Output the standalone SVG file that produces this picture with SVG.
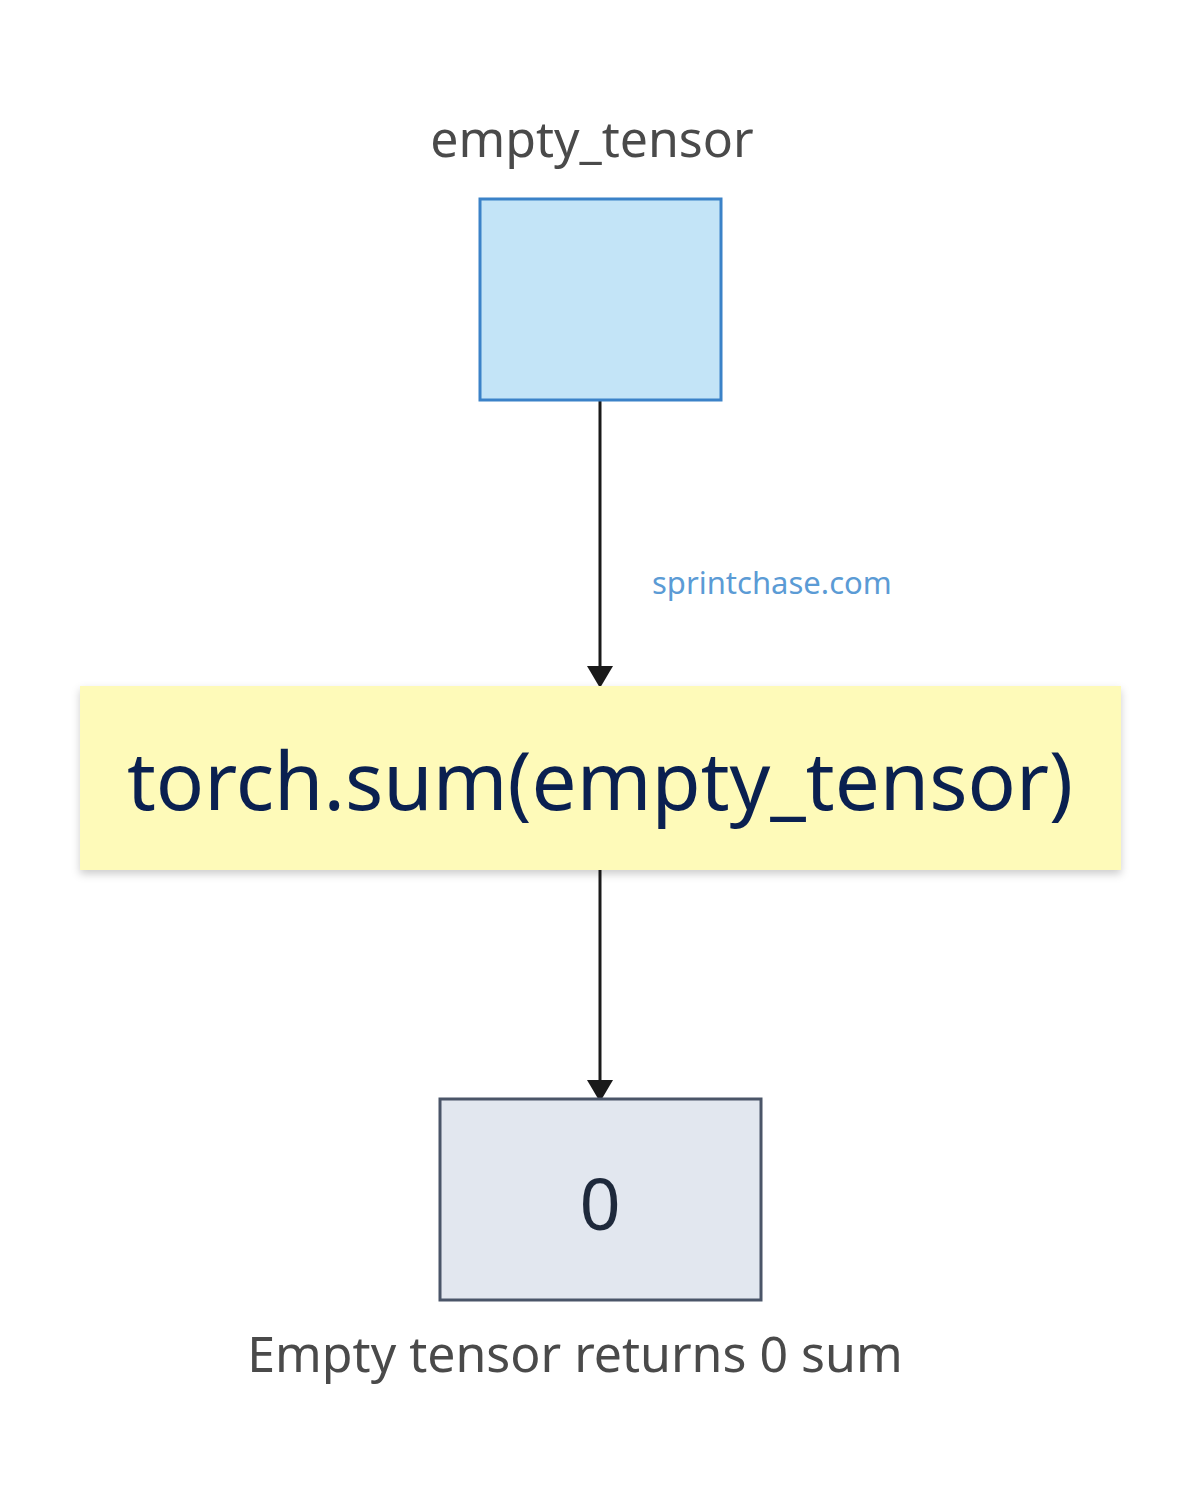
<svg xmlns="http://www.w3.org/2000/svg" width="1201" height="1485" viewBox="0 0 1201 1485">
<style>
text{font-family:"Noto Sans","Open Sans",sans-serif}
.lbl{fill:#4a4a4a;font-size:50px;text-anchor:middle}
.conn{stroke:#1a1a1a;stroke-width:3;fill:none;marker-end:url(#ah)}
</style>
<defs>
<marker id="ah" markerWidth="10" markerHeight="10" refX="9" refY="5" orient="auto" markerUnits="userSpaceOnUse" viewBox="0 0 10 10">
</marker>
<filter id="sh" x="-5%" y="-20%" width="110%" height="140%"><feDropShadow dx="0" dy="4" stdDeviation="4" flood-color="#000" flood-opacity="0.2"/></filter>
</defs>
<rect width="1201" height="1485" fill="#fff"/>
<g id="connectors">
<line x1="600" y1="400" x2="600" y2="668" stroke="#1a1a1a" stroke-width="3"/>
<polygon points="587,666 613,666 600,688" fill="#1a1a1a"/>
<line x1="600" y1="870" x2="600" y2="1082" stroke="#1a1a1a" stroke-width="3"/>
<polygon points="587,1080 613,1080 600,1102" fill="#1a1a1a"/>
<text x="652" y="594" font-size="31" fill="#5b9bd5">sprintchase.com</text>
</g>
<g id="empty_tensor">
<text class="lbl" x="592" y="157">empty_tensor</text>
<rect x="480" y="199" width="241" height="201" fill="#c3e4f7" stroke="#3b82c8" stroke-width="3"/>
</g>
<g id="torch_sum">
<rect x="80" y="686" width="1041" height="184" fill="#fefab9" filter="url(#sh)"/>
<text x="600" y="810" font-size="80" fill="#0a2050" text-anchor="middle">torch.sum(empty_tensor)</text>
</g>
<g id="result">
<rect x="440" y="1099" width="321" height="201" fill="#e2e7ef" stroke="#4a5568" stroke-width="3"/>
<text x="600" y="1230" font-size="72" fill="#1e293b" text-anchor="middle">0</text>
<text class="lbl" x="575" y="1372" font-size="46">Empty tensor returns 0 sum</text>
</g>
</svg>
